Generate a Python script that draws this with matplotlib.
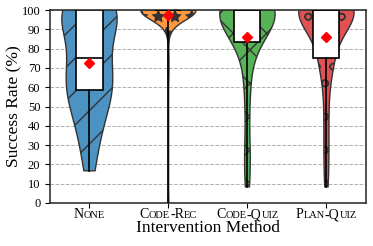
import numpy as np
import matplotlib.pyplot as plt
import matplotlib.transforms as mtransforms

plt.rcParams['font.family'] = ['Liberation Serif', 'DejaVu Serif']

# success rates are multiples of 1/12 -> (twelfths, count)
none_counts = [(2, 1), (3, 1), (4, 1), (5, 2), (6, 2), (7, 4), (8, 3), (9, 3), (10, 1), (11, 2), (12, 10)]
code_rec_counts = [(0, 1), (8, 1), (9, 1), (11, 4), (12, 73)]
code_quiz_counts = [(1, 1), (2, 1), (3, 1), (4, 1), (6, 1), (7, 1), (8, 1), (9, 1), (10, 4), (11, 4), (12, 25)]
plan_quiz_counts = [(1, 1), (2, 1), (3, 1), (4, 1), (5, 1), (6, 1), (7, 1), (8, 1), (9, 6), (10, 2), (11, 2), (12, 33)]

methods = ['None', 'Code-Rec', 'Code-Quiz', 'Plan-Quiz']
colors = ['#4C92C3', '#FF983E', '#56B356', '#DE5253']
hatches = ['/', '*', 'x', 'o']


def expand(counts):
    vals = []
    for k, n in counts:
        vals += [k / 12 * 100] * n
    return np.array(vals)


def small_caps(label):
    # split into (text, is_big) pieces: capitals stay big, lower case -> small caps
    pieces = []
    for ch in label:
        big = not ch.islower()
        txt = ch.upper()
        if pieces and pieces[-1][1] == big:
            pieces[-1] = (pieces[-1][0] + txt, big)
        else:
            pieces.append((txt, big))
    return pieces


data = [expand(c) for c in [none_counts, code_rec_counts, code_quiz_counts, plan_quiz_counts]]
pos = np.arange(len(methods))

fig, ax = plt.subplots(figsize=(3.73, 2.46), dpi=100)
fig.subplots_adjust(left=0.134, right=0.981, top=0.959, bottom=0.175)

ax.yaxis.grid(True, linestyle='--', color='#b0b0b0', linewidth=0.7)
ax.set_axisbelow(True)

vp = ax.violinplot(data, positions=pos, widths=0.7, showextrema=False)
for body, c, h in zip(vp['bodies'], colors, hatches):
    body.set_facecolor(c)
    body.set_edgecolor('#333333')
    body.set_linewidth(1.0)
    body.set_alpha(1)
    body.set_hatch(h)
    body.set_zorder(2)

ax.boxplot(data, positions=pos, widths=0.33, whis=(0, 100), showcaps=False,
           showfliers=False, showmeans=True, patch_artist=True,
           boxprops=dict(facecolor='white', edgecolor='black', linewidth=1.2),
           whiskerprops=dict(color='black', linewidth=1.2),
           medianprops=dict(color='black', linewidth=1.2),
           meanprops=dict(marker='D', markerfacecolor='red', markeredgecolor='red', markersize=5),
           zorder=3)

ax.set_ylim(0, 100)
ax.set_xlim(-0.5, 3.5)
ax.set_yticks(range(0, 101, 10))
ax.set_xticks(pos)
ax.set_xticklabels([''] * len(methods))
ax.tick_params(axis='y', labelsize=9)
ax.set_ylabel('Success Rate (%)', fontsize=12.5)
ax.yaxis.set_label_coords(-0.087, 0.5)
ax.set_xlabel('Intervention Method', fontsize=12.5)
ax.xaxis.set_label_coords(0.5, -0.09)
for s in ax.spines.values():
    s.set_color('#333333')
    s.set_linewidth(1.2)

# small-caps tick labels built from pieces
big_size, small_size = 10, 7.5
renderer = fig.canvas.get_renderer()
base = ax.get_xaxis_transform()
for x, label in zip(pos, methods):
    pieces = small_caps(label)
    widths = []
    for txt, big in pieces:
        t = fig.text(0, 0, txt, fontsize=big_size if big else small_size)
        widths.append(t.get_window_extent(renderer).width)
        t.remove()
    total = sum(widths)
    off = -total / 2
    for (txt, big), w in zip(pieces, widths):
        tr = mtransforms.offset_copy(base, fig, x=off * 72 / fig.dpi, y=-11, units='points')
        ax.text(x, 0, txt, transform=tr, fontsize=big_size if big else small_size,
                ha='left', va='baseline')
        off += w

fig.savefig('out.png', dpi=100)
